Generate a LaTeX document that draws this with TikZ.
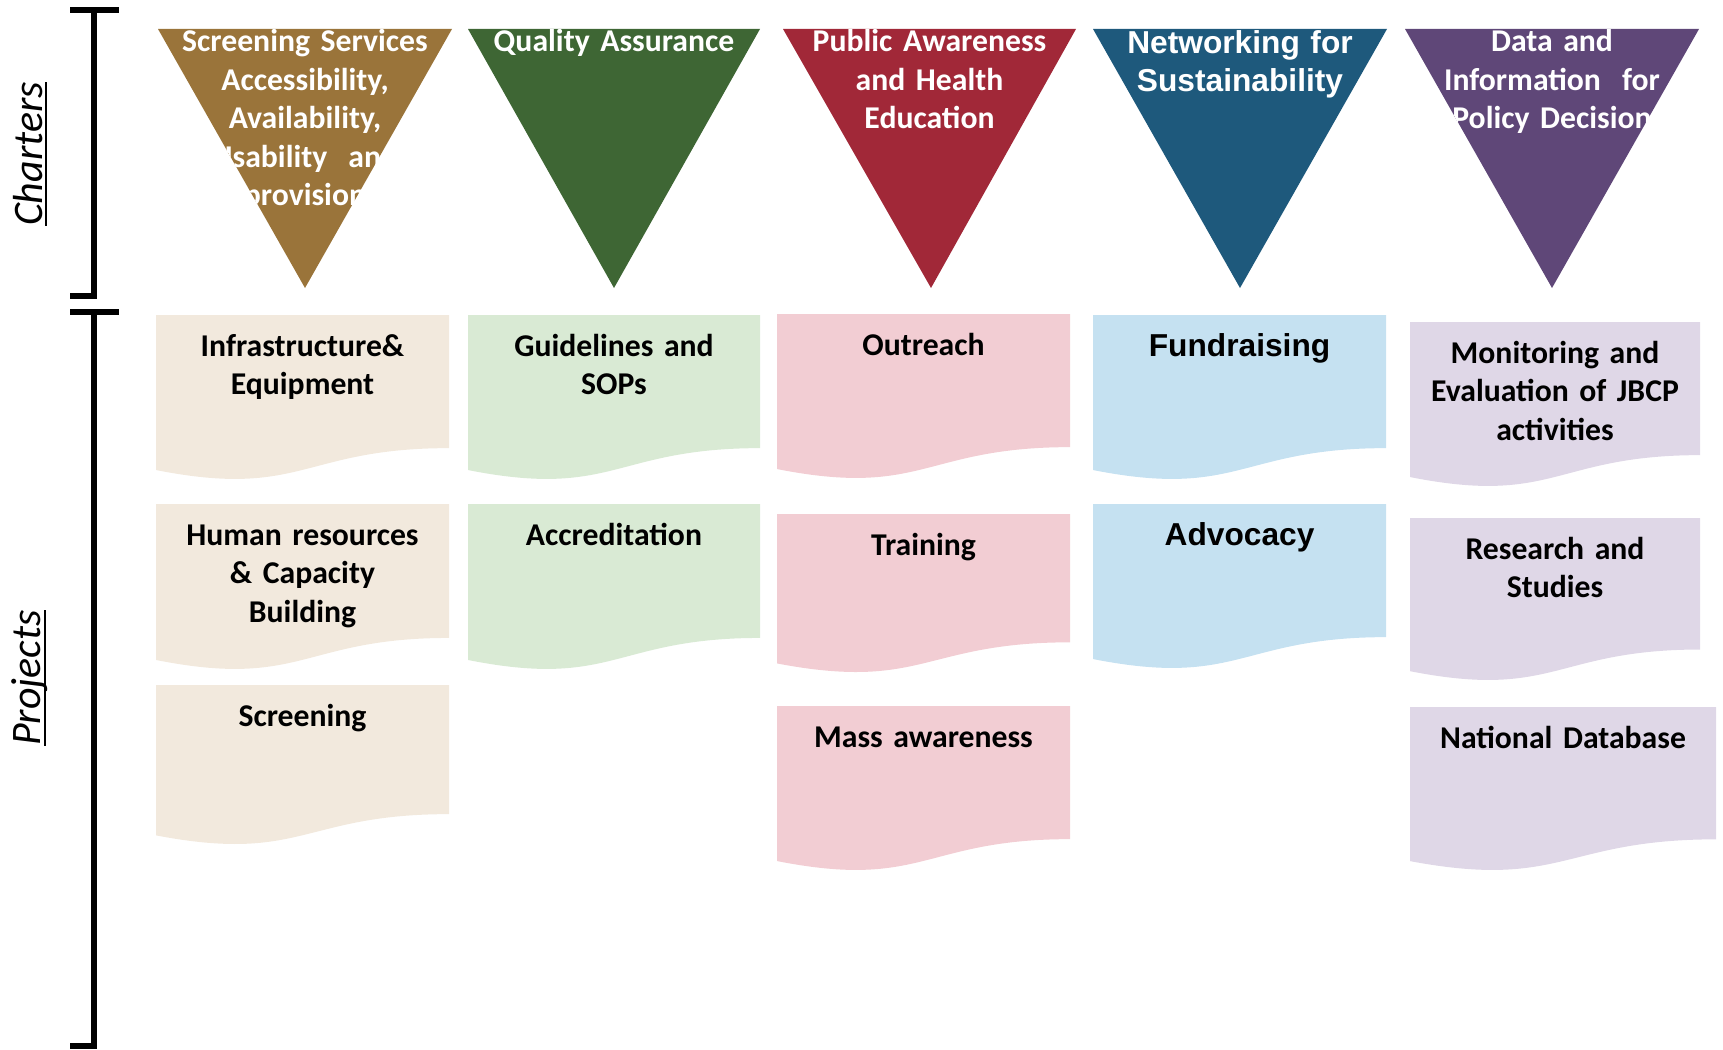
\documentclass[tikz,border=0pt]{standalone}
\usepackage{fontspec}
\setmainfont{Carlito}
\newfontfamily\arialf{Liberation Sans}
\definecolor{cBrown}{HTML}{9A743A}
\definecolor{cGreen}{HTML}{3E6634}
\definecolor{cRed}{HTML}{A12838}
\definecolor{cBlue}{HTML}{1E597C}
\definecolor{cPurple}{HTML}{5F4778}
\definecolor{lBrown}{HTML}{F2E9DD}
\definecolor{lGreen}{HTML}{D9EAD4}
\definecolor{lPink}{HTML}{F2CDD3}
\definecolor{lBlue}{HTML}{C5E1F1}
\definecolor{lPurple}{HTML}{DFD7E7}
\newcommand\ulbox[1]{\setbox0\hbox{#1}\rlap{\rule[-5pt]{\wd0}{2pt}}\box0}
\tikzset{
  boxtext/.style={anchor=base, text width=300pt, align=center, inner sep=0pt,
    font=\fontsize{31.7}{38.5}\selectfont\bfseries},
  arialtext/.style={font=\fontsize{31.7}{38.5}\selectfont\bfseries\arialf},
  tritext/.style={anchor=base, text width=320pt, align=center, inner sep=0pt, text=white,
    font=\fontsize{31.7}{38.5}\selectfont\bfseries},
  sidelabel/.style={rotate=90, inner sep=0pt, font=\fontsize{42}{50}\selectfont\itshape},
  bracket/.style={line width=6pt, black}
}
% name, left, right, apex x, colour, extra style, text
\newcommand\chartertri[7]{%
  \fill[#5] (#2,29) -- (#3,29) -- (#4,288) -- cycle;
  \begin{scope}
    \clip (#2,29) -- (#3,29) -- (#4,288) -- cycle;
    \node[tritext,#6] (#1) at ({(#2+#3)/2},52) {#7};
  \end{scope}}
% name, left, top, width, height, fill, extra style, text
\newcommand\docbox[8]{%
  \fill[#6] (#2,#3) -- ({#2+#4},#3) -- ({#2+#4},{#3+0.802*#5})
    .. controls ({#2+0.5*#4},{#3+0.802*#5}) and ({#2+0.5*#4},{#3+1.108*#5}) .. (#2,{#3+0.934*#5}) -- cycle;
  \node[boxtext,#7] (#1) at ({#2+0.5*#4},{#3+41}) {#8};}
\begin{document}
\begin{tikzpicture}[x=1pt,y=-1pt]
\useasboundingbox (0,0) rectangle (1723,1049);
% brackets
\draw[bracket] (70,10) -- (119,10);
\draw[bracket] (94,10) -- (94,296) -- (70,296);
\draw[bracket] (70,312) -- (119,312);
\draw[bracket] (94,312) -- (94,1046) -- (70,1046);
\node[sidelabel] (charters) at (30,154) {\ulbox{Charters}};
\node[sidelabel] (projects) at (30,678) {\ulbox{Projects}};
% charters
\chartertri{t1}{158}{452}{305}{cBrown}{}{Screening Services\\Accessibility,\\Availability,\\Usability~ and\\provision}
\chartertri{t2}{468}{760}{614}{cGreen}{}{Quality Assurance}
\chartertri{t3}{783}{1076}{931}{cRed}{}{Public Awareness\\and Health\\Education}
\chartertri{t4}{1093}{1387}{1240}{cBlue}{arialtext,yshift=-1pt}{Networking for\\Sustainability}
\chartertri{t5}{1405}{1699}{1552}{cPurple}{}{Data and\\Information~ for\\Policy Decision}
% projects
\docbox{p11}{156}{315}{293}{166}{lBrown}{}{Infrastructure\&\\Equipment}
\docbox{p12}{156}{504}{293}{167}{lBrown}{}{Human resources\\\& Capacity\\Building}
\docbox{p13}{156}{685}{293}{161}{lBrown}{}{Screening}
\docbox{p21}{468}{315}{292}{166}{lGreen}{}{Guidelines and\\SOPs}
\docbox{p22}{468}{504}{292}{167}{lGreen}{}{Accreditation}
\docbox{p31}{777}{314}{293}{166}{lPink}{}{Outreach}
\docbox{p32}{777}{514}{293}{160}{lPink}{}{Training}
\docbox{p33}{777}{706}{293}{166}{lPink}{}{Mass awareness}
\docbox{p41}{1093}{315}{293}{166}{lBlue}{arialtext}{Fundraising}
\docbox{p42}{1093}{504}{293}{166}{lBlue}{arialtext}{Advocacy}
\docbox{p51}{1410}{322}{290}{166}{lPurple}{}{Monitoring and\\Evaluation of JBCP\\activities}
\docbox{p52}{1410}{518}{290}{164}{lPurple}{}{Research and\\Studies}
\docbox{p53}{1410}{707}{306}{165}{lPurple}{}{National Database}
\end{tikzpicture}
\end{document}
